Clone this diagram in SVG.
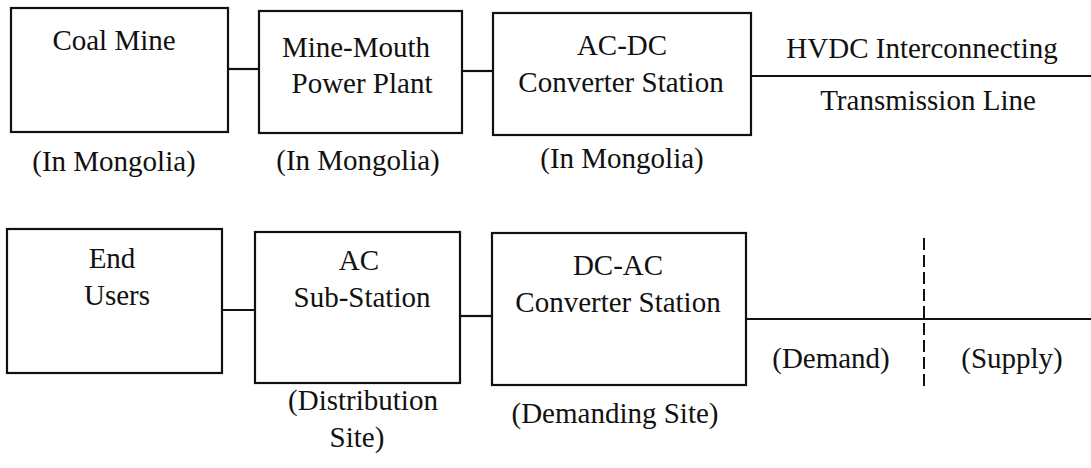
<svg xmlns="http://www.w3.org/2000/svg" width="1091" height="468" viewBox="0 0 1091 468">
<style>
.box{fill:#fff;stroke:#111;stroke-width:2.2}
.t{font-family:"Liberation Serif","Times New Roman",serif;font-size:29px;fill:#111;text-anchor:middle}
.c{stroke:#111;stroke-width:2.2;fill:none}
.d{stroke:#111;stroke-width:2;fill:none;stroke-dasharray:12 5}
</style>
<rect width="1091" height="468" fill="#fff"/>
<g id="connectors">
<line class="c" x1="228" y1="69" x2="259" y2="69"/>
<line class="c" x1="462" y1="71" x2="493" y2="71"/>
<line class="c" x1="751" y1="76" x2="1091" y2="76"/>
<line class="c" x1="222" y1="310" x2="255" y2="310"/>
<line class="c" x1="460" y1="316" x2="492" y2="316"/>
<line class="c" x1="746" y1="319" x2="1091" y2="319"/>
</g>
<g id="coal-mine">
<rect class="box" x="11" y="8" width="217" height="124"/>
<text class="t" x="114" y="50">Coal Mine</text>
<text class="t" x="114" y="171">(In Mongolia)</text>
</g>
<g id="power-plant">
<rect class="box" x="259" y="11" width="203" height="122"/>
<text class="t" x="356" y="57">Mine-Mouth</text>
<text class="t" x="362" y="93">Power Plant</text>
<text class="t" x="358" y="170">(In Mongolia)</text>
</g>
<g id="acdc">
<rect class="box" x="493" y="13" width="258" height="122"/>
<text class="t" x="622" y="55">AC-DC</text>
<text class="t" x="621" y="92">Converter Station</text>
<text class="t" x="622" y="168">(In Mongolia)</text>
</g>
<g id="hvdc-label">
<text class="t" x="922" y="58">HVDC Interconnecting</text>
<text class="t" x="928" y="110">Transmission Line</text>
</g>
<g id="end-users">
<rect class="box" x="7" y="229" width="215" height="144"/>
<text class="t" x="112" y="268">End</text>
<text class="t" x="117" y="305">Users</text>
</g>
<g id="ac-substation">
<rect class="box" x="255" y="232" width="205" height="151"/>
<text class="t" x="359" y="270">AC</text>
<text class="t" x="362" y="307">Sub-Station</text>
<text class="t" x="363" y="410">(Distribution</text>
<text class="t" x="357" y="447">Site)</text>
</g>
<g id="dcac">
<rect class="box" x="492" y="233" width="254" height="152"/>
<text class="t" x="618" y="275">DC-AC</text>
<text class="t" x="618" y="312">Converter Station</text>
<text class="t" x="615" y="423">(Demanding Site)</text>
</g>
<g id="boundary">
<line class="d" x1="924" y1="238" x2="924" y2="388"/>
<text class="t" x="831" y="368">(Demand)</text>
<text class="t" x="1012" y="368">(Supply)</text>
</g>
</svg>
